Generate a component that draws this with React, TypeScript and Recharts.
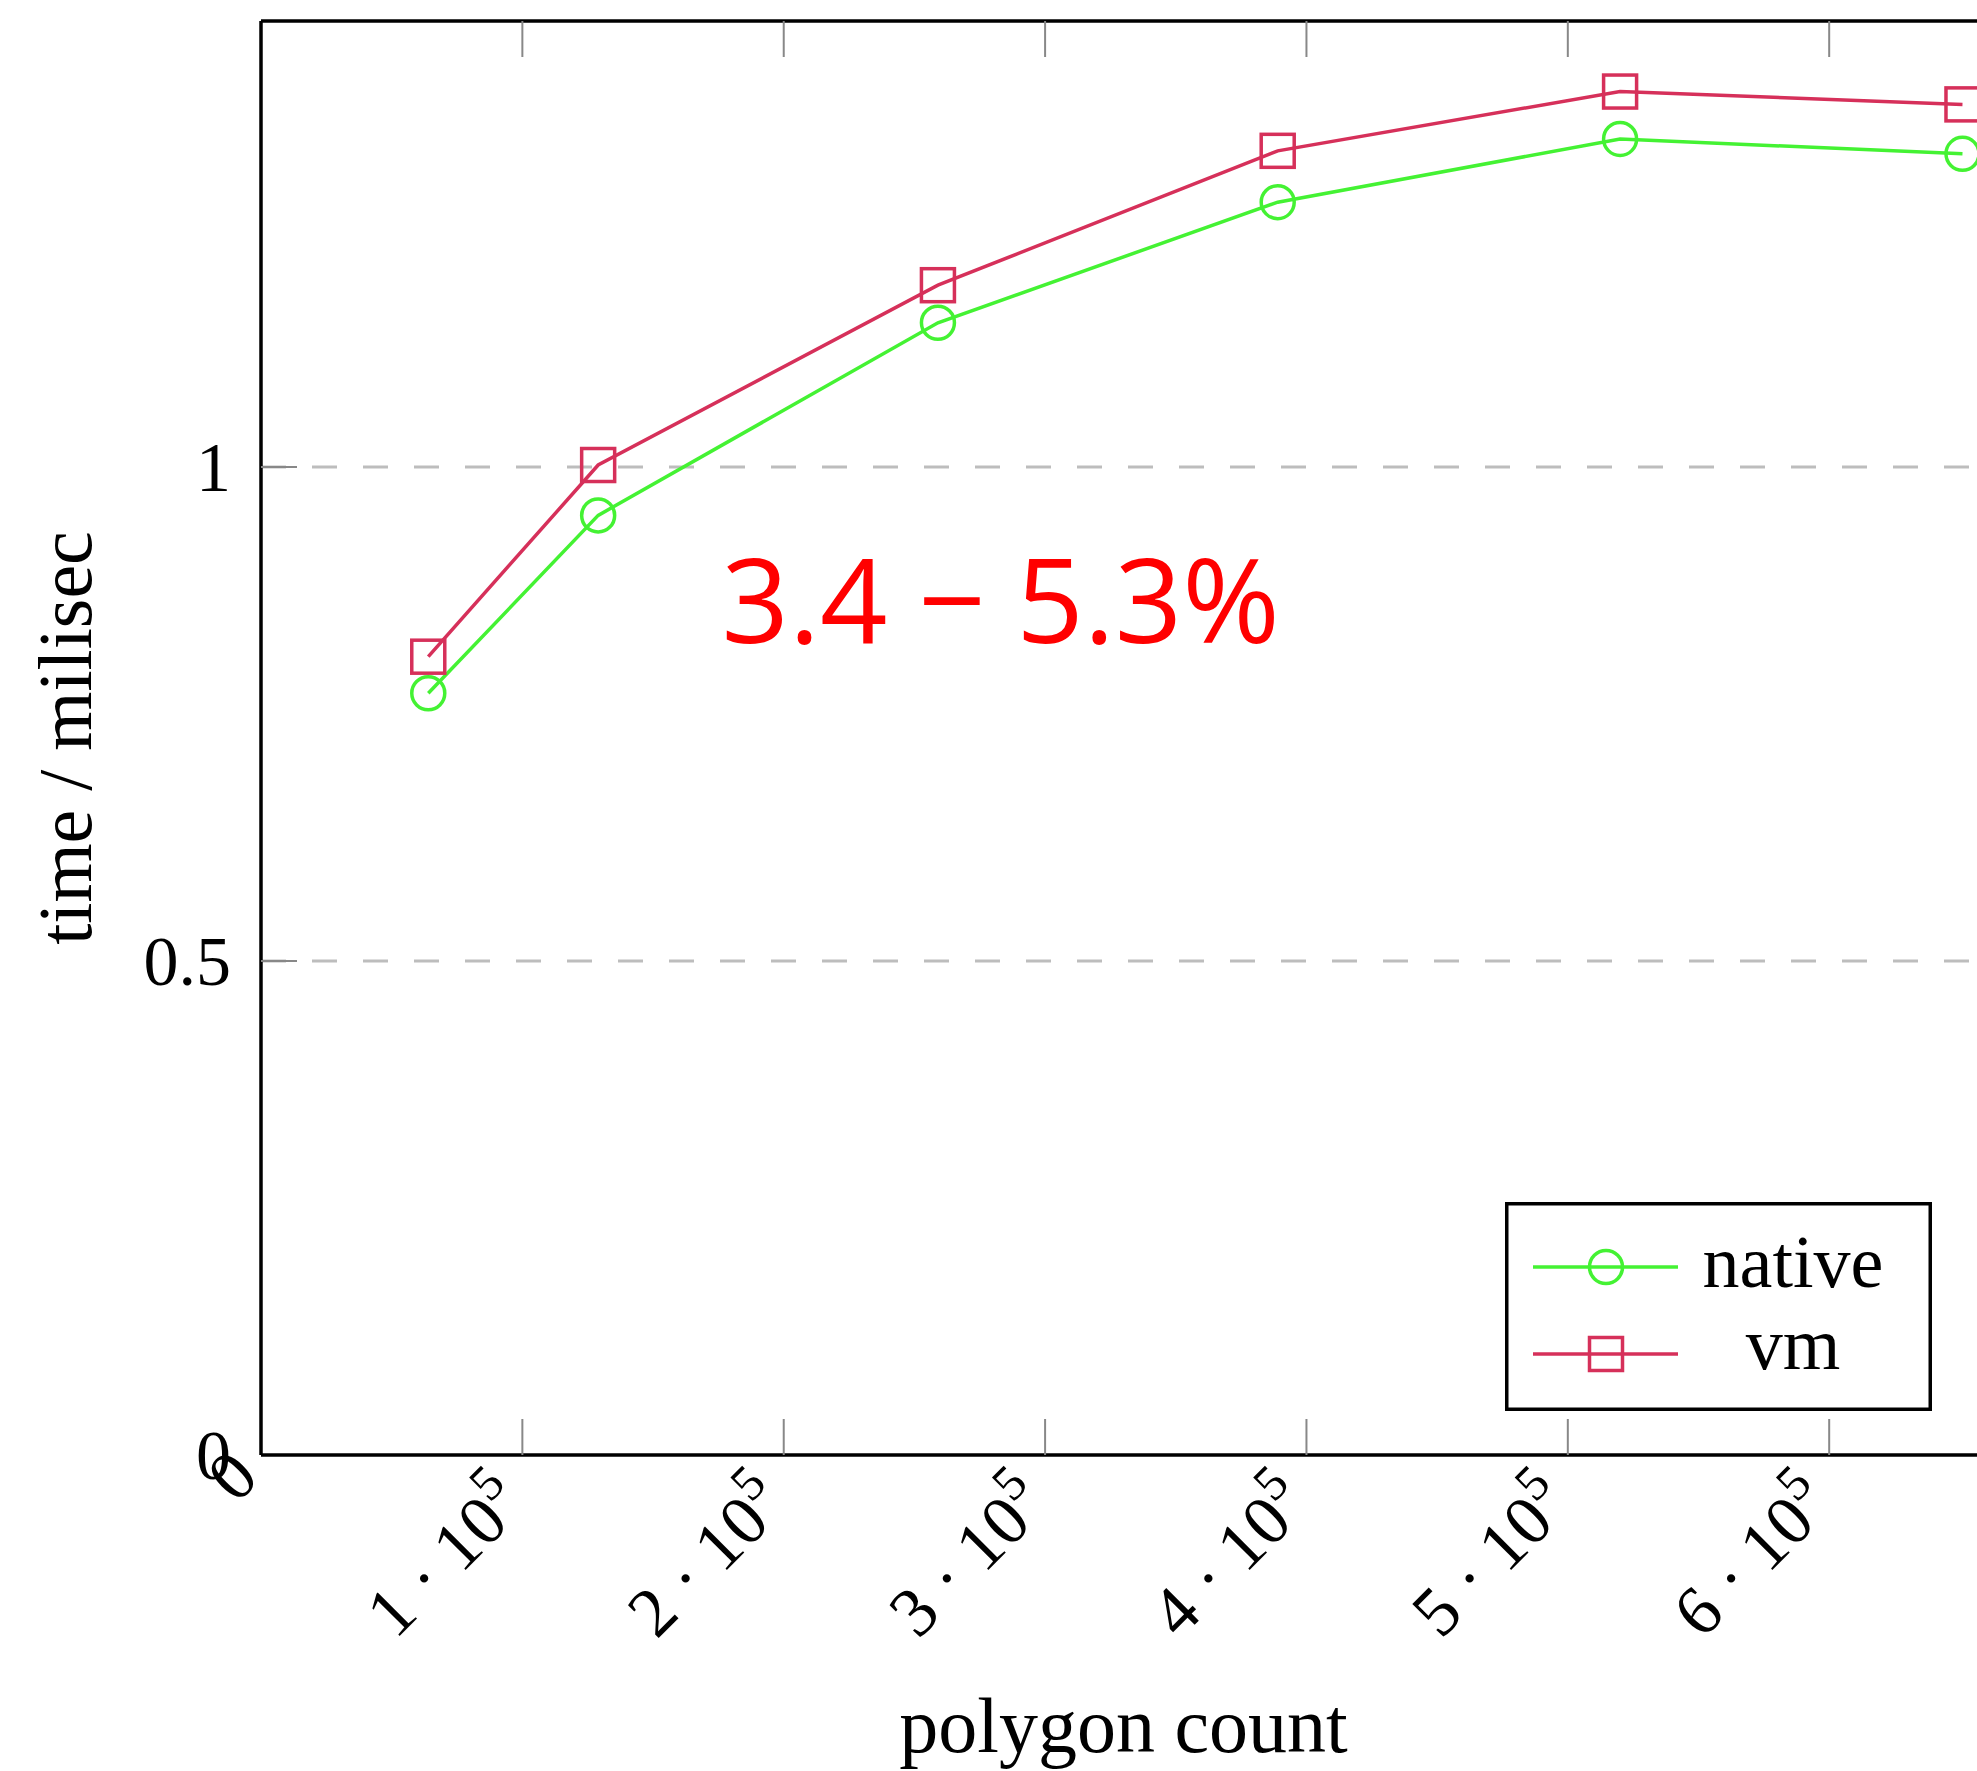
import React from "react"
import {
  LineChart, Line, XAxis, YAxis, CartesianGrid, Legend, ReferenceDot,
} from "recharts"

const xValues = [64000, 129000, 259000, 389000, 520000, 651000]
const nativeMs = [0.771, 0.951, 1.146, 1.268, 1.332, 1.317]
const vmMs = [0.808, 1.002, 1.184, 1.32, 1.38, 1.367]
const xTicks = [0, 100000, 200000, 300000, 400000, 500000, 600000]
const yTicks = [0, 0.5, 1]
const annotation = "3.4 − 5.3%"

const data = xValues.map((x, i) => ({ x, native: nativeMs[i], vm: vmMs[i] }))

const GREEN = "#44f233"
const PINK = "#d6305a"
const SERIF = "'Liberation Serif', 'DejaVu Serif', serif"
const TICK_GREY = "#888"

function BottomTick({ x, y, payload }: any) {
  const v = payload.value
  // labels with a superscript sit a bit lower (pgfplots anchors the box centre)
  const px = v === 0 ? x : x + 6
  const py = v === 0 ? y + 25 : y + 52
  return (
    <g>
      {v !== 0 && <line x1={x} y1={y} x2={x} y2={y - 36} stroke={TICK_GREY} strokeWidth={2} />}
      <text
        x={px}
        y={py}
        transform={`rotate(-45 ${px} ${py})`}
        textAnchor="end"
        fontFamily={SERIF}
        fontSize={70}
        fill="#000"
      >
        {v === 0 ? "0" : (
          <>
            {`${v / 100000} · 10`}
            <tspan dy={-30} fontSize={50}>5</tspan>
          </>
        )}
      </text>
    </g>
  )
}

function TopTick({ x, y, payload }: any) {
  if (payload.value === 0) return <g />
  return <line x1={x} y1={y} x2={x} y2={y + 36} stroke={TICK_GREY} strokeWidth={2} />
}

function LeftTick({ x, y, payload }: any) {
  return (
    <g>
      {payload.value !== 0 && <line x1={x} y1={y} x2={x + 36} y2={y} stroke={TICK_GREY} strokeWidth={2} />}
      <text x={x - 30} y={y + 24} textAnchor="end" fontFamily={SERIF} fontSize={70} fill="#000">
        {payload.value}
      </text>
    </g>
  )
}

function CircleDot({ cx, cy, index }: any) {
  return <circle key={`c${index}`} cx={cx} cy={cy} r={16.5} fill="none" stroke={GREEN} strokeWidth={3.5} />
}

function SquareDot({ cx, cy, index }: any) {
  return (
    <rect key={`s${index}`} x={cx - 16.5} y={cy - 16.5} width={33} height={33}
      fill="none" stroke={PINK} strokeWidth={3.5} />
  )
}

function LegendBox() {
  return (
    <svg width={427} height={209} style={{ display: "block" }}>
      <rect x={1.75} y={1.75} width={423.5} height={205.5} fill="#fff" stroke="#000" strokeWidth={3.5} />
      <line x1={28} y1={65} x2={173} y2={65} stroke={GREEN} strokeWidth={3.5} />
      <circle cx={101} cy={65} r={16.5} fill="none" stroke={GREEN} strokeWidth={3.5} />
      <text x={288} y={85} textAnchor="middle" fontFamily={SERIF} fontSize={74}>native</text>
      <line x1={28} y1={152} x2={173} y2={152} stroke={PINK} strokeWidth={3.5} />
      <rect x={84.5} y={135.5} width={33} height={33} fill="none" stroke={PINK} strokeWidth={3.5} />
      <text x={288} y={167} textAnchor="middle" fontFamily={SERIF} fontSize={74}>vm</text>
    </svg>
  )
}

function AnnotationText({ cx, cy }: any) {
  return (
    <text x={cx} y={cy} textAnchor="middle" fontFamily="'Open Sans', sans-serif" fontSize={118} fill="#ff0000">
      {annotation}
    </text>
  )
}

export default function App() {
  return (
    <div style={{ position: "absolute", left: 0, top: 0, width: 1977, height: 1771, overflow: "hidden", background: "#fff" }}>
      <LineChart
        width={2000}
        height={1771}
        data={data}
        margin={{ top: 20, right: 14, left: 260, bottom: 315 }}
      >
        <CartesianGrid
          vertical={false}
          horizontalValues={[0.5, 1]}
          stroke="#bdbdbd"
          strokeWidth={3}
          strokeDasharray="25 26"
        />
        <XAxis
          dataKey="x"
          type="number"
          domain={[0, 660000]}
          ticks={xTicks}
          height={1}
          tickSize={0}
          tickMargin={0}
          tickLine={false}
          axisLine={{ stroke: "#000", strokeWidth: 3.5 }}
          tick={<BottomTick />}
          interval={0}
          allowDataOverflow
          label={{
            value: "polygon count",
            position: "insideBottom",
            content: ({ viewBox }: any) => (
              <text x={viewBox.x + viewBox.width / 2} y={1752} textAnchor="middle" fontFamily={SERIF} fontSize={78}>
                polygon count
              </text>
            ),
          }}
        />
        <XAxis
          xAxisId="top"
          orientation="top"
          dataKey="x"
          type="number"
          domain={[0, 660000]}
          ticks={xTicks}
          height={1}
          tickSize={0}
          tickMargin={0}
          tickLine={false}
          axisLine={{ stroke: "#000", strokeWidth: 3.5 }}
          tick={<TopTick />}
          interval={0}
          allowDataOverflow
        />
        <YAxis
          type="number"
          domain={[0, 1.4514]}
          ticks={yTicks}
          width={1}
          tickSize={0}
          tickMargin={0}
          tickLine={false}
          axisLine={{ stroke: "#000", strokeWidth: 3.5 }}
          tick={<LeftTick />}
          interval={0}
          allowDataOverflow
          label={{
            value: "time / milisec",
            content: ({ viewBox }: any) => {
              const cy = viewBox.y + viewBox.height / 2
              return (
                <text x={91} y={cy} transform={`rotate(-90 91 ${cy})`} textAnchor="middle" fontFamily={SERIF} fontSize={76}>
                  time / milisec
                </text>
              )
            },
          }}
        />
        <Line
          type="linear"
          dataKey="native"
          stroke={GREEN}
          strokeWidth={3.5}
          dot={CircleDot}
          activeDot={false}
          isAnimationActive={false}
        />
        <Line
          type="linear"
          dataKey="vm"
          stroke={PINK}
          strokeWidth={3.5}
          dot={SquareDot}
          activeDot={false}
          isAnimationActive={false}
        />
        <ReferenceDot x={283000} y={0.822} r={0} shape={AnnotationText} />
        <Legend
          layout="horizontal"
          verticalAlign="middle"
          align="center"
          wrapperStyle={{ left: 1505, top: 1202, width: 427, height: 209 }}
          content={() => <LegendBox />}
        />
      </LineChart>
    </div>
  )
}
